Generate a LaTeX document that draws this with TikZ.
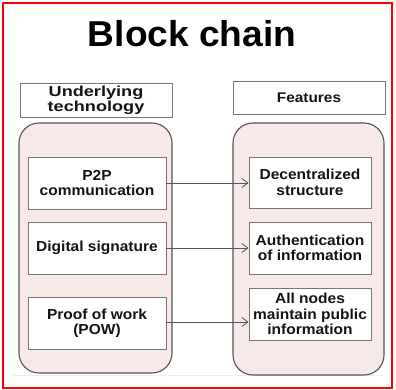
\documentclass[tikz,border=0pt]{standalone}
\usepackage{fontspec}
\setmainfont{Liberation Sans}
\newfontfamily\labfont{Liberation Sans}[FakeStretch=1.07]
\newfontfamily\hdfont{Liberation Sans}[FakeStretch=1.25]
\newfontfamily\ftfont{Liberation Sans}[FakeStretch=1.1]
\newfontfamily\ttlfont{Liberation Sans}[FakeStretch=1.03]
\usetikzlibrary{arrows.meta}
\definecolor{boxpink}{RGB}{247,233,231}
\definecolor{edgegray}{RGB}{85,85,85}
\definecolor{txt}{RGB}{20,20,20}
\tikzset{
  container/.style={draw=edgegray, line width=1.1pt, fill=boxpink, rounded corners=20pt, inner sep=0pt},
  itembox/.style={draw=edgegray!80, line width=0.9pt, fill=white, inner sep=0pt, align=center, text=txt,
    font=\labfont\bfseries\fontsize{14.5}{15.5}\selectfont},
  headbox/.style={draw=edgegray!80, line width=0.9pt, fill=white, inner sep=0pt, align=center, text=txt},
  link/.style={draw=edgegray, line width=0.8pt, -{Straight Barb[length=6pt,width=9pt]}}
}
\begin{document}
\begin{tikzpicture}[x=1pt,y=-1pt]
\useasboundingbox (0,0) rectangle (396,390);
\draw[red, line width=1.5pt] (3,3) rectangle (392,388);
\node[anchor=base, text=black, font=\ttlfont\bfseries\fontsize{36}{40}\selectfont] (title) at (192,47) {Block chain};
% header boxes
\node[headbox, minimum width=152pt, minimum height=34pt, font=\hdfont\bfseries\fontsize{14.5}{14.8}\selectfont] (hl) at (96,100) {Underlying\\technology};
\node[headbox, minimum width=152pt, minimum height=33pt, font=\ftfont\bfseries\fontsize{14}{15}\selectfont] (hr) at (309,97.5) {Features};
% faint base line
\draw[gray!15, line width=0.6pt] (13,375.5) -- (383,375.5);
% containers
\node[container, minimum width=153pt, minimum height=250pt] (lc) at (95.5,248) {};
\node[container, minimum width=151pt, minimum height=252pt] (rc) at (308.5,249) {};
% left items
\node[itembox, minimum width=138pt, minimum height=52pt] (l1) at (97,183) {P2P\\communication};
\node[itembox, minimum width=138pt, minimum height=52pt] (l2) at (97,248) {Digital signature};
\node[itembox, minimum width=138pt, minimum height=52pt] (l3) at (97,323) {Proof of work\\(POW)};
% right items
\node[itembox, minimum width=122pt, minimum height=51pt] (r1) at (310,182.5) {Decentralized\\structure};
\node[itembox, minimum width=122pt, minimum height=52pt] (r2) at (310,248) {Authentication\\of information};
\node[itembox, minimum width=122pt, minimum height=52pt] (r3) at (310,314) {All nodes\\maintain public\\information};
% connectors
\draw[link] (l1.east) -- (l1.east -| r1.west);
\draw[link] (l2.east) -- (l2.east -| r2.west);
\draw[link] ([yshift=1pt]l3.east) -- ([yshift=1pt]l3.east -| r3.west);
\end{tikzpicture}
\end{document}
